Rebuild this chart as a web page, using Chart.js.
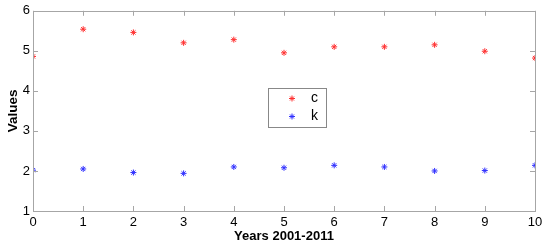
<!DOCTYPE html>
<html>
<head>
<meta charset="utf-8">
<script src="https://cdn.jsdelivr.net/npm/chart.js@4/dist/chart.umd.min.js"></script>
<style>
  html, body { margin: 0; padding: 0; background: #fff; }
  #wrap { width: 550px; height: 247px; }
</style>
</head>
<body>
<div id="wrap"><canvas id="chart" width="550" height="247"></canvas></div>
<script>
const years = [0, 1, 2, 3, 4, 5, 6, 7, 8, 9, 10];
const cValues = [4.86, 5.54, 5.46, 5.20, 5.28, 4.95, 5.10, 5.10, 5.15, 4.99, 4.82];
const kValues = [2.02, 2.05, 1.96, 1.94, 2.10, 2.08, 2.14, 2.10, 2.00, 2.01, 2.14];
const xTicks = [0, 1, 2, 3, 4, 5, 6, 7, 8, 9, 10];
const yTicks = [1, 2, 3, 4, 5, 6];

const FONT = "'Liberation Sans', Arial, sans-serif";
const FRAME = "#a6a6a6";

// frame, inward ticks on all four sides, legend box in the middle
const matlabAxes = {
    id: "matlabAxes",
    afterDraw(chart) {
        const { ctx, chartArea: a, scales } = chart;
        ctx.save();
        ctx.strokeStyle = FRAME;
        ctx.lineWidth = 1;
        ctx.strokeRect(Math.round(a.left) + 0.5, Math.round(a.top) + 0.5,
            Math.round(a.right - a.left), Math.round(a.bottom - a.top));
        const len = 5;
        ctx.beginPath();
        xTicks.forEach((t) => {
            const x = Math.round(scales.x.getPixelForValue(t)) + 0.5;
            ctx.moveTo(x, a.bottom); ctx.lineTo(x, a.bottom - len);
            ctx.moveTo(x, a.top); ctx.lineTo(x, a.top + len);
        });
        yTicks.forEach((t) => {
            const y = Math.round(scales.y.getPixelForValue(t)) + 0.5;
            ctx.moveTo(a.left, y); ctx.lineTo(a.left + len, y);
            ctx.moveTo(a.right, y); ctx.lineTo(a.right - len, y);
        });
        ctx.stroke();

        // legend
        const bx = 268.5, by = 88.5, bw = 58, bh = 39;
        ctx.fillStyle = "#fff";
        ctx.fillRect(bx, by, bw, bh);
        ctx.strokeStyle = "#888";
        ctx.strokeRect(bx, by, bw, bh);
        chart.data.datasets.forEach((ds, i) => {
            const y = by + 10 + i * 18;
            ctx.strokeStyle = ds.borderColor;
            ctx.lineWidth = 1;
            const r = 3, mx = 292;
            ctx.beginPath();
            ctx.moveTo(mx - r, y); ctx.lineTo(mx + r, y);
            ctx.moveTo(mx, y - r); ctx.lineTo(mx, y + r);
            ctx.moveTo(mx - 2, y - 2); ctx.lineTo(mx + 2, y + 2);
            ctx.moveTo(mx - 2, y + 2); ctx.lineTo(mx + 2, y - 2);
            ctx.stroke();
            ctx.fillStyle = "#000";
            ctx.font = "14px " + FONT;
            ctx.textBaseline = "middle";
            ctx.fillText(ds.label, 311, y);
        });
        ctx.restore();
    },
};

new Chart(document.getElementById("chart"), {
    type: "scatter",
    data: {
        datasets: [
            {
                label: "c",
                data: years.map((x, i) => ({ x, y: cValues[i] })),
                borderColor: "#ff3030",
                backgroundColor: "#ff3030",
                pointStyle: "star",
                pointRadius: 3,
                borderWidth: 1,
            },
            {
                label: "k",
                data: years.map((x, i) => ({ x, y: kValues[i] })),
                borderColor: "#3030ff",
                backgroundColor: "#3030ff",
                pointStyle: "star",
                pointRadius: 3,
                borderWidth: 1,
            },
        ],
    },
    options: {
        responsive: false,
        animation: false,
        layout: { padding: { top: 10, right: 15, left: 0, bottom: 0 } },
        plugins: {
            legend: { display: false },
            tooltip: { enabled: false },
        },
        scales: {
            x: {
                type: "linear",
                min: 0,
                max: 10,
                afterBuildTicks: (s) => { s.ticks = xTicks.map((v) => ({ value: v })); },
                afterFit: (s) => { s.height = 36; },
                grid: { display: false, drawTicks: false },
                border: { display: false },
                ticks: { color: "#000", font: { family: FONT, size: 13 }, padding: 4, maxRotation: 0 },
                title: {
                    display: true,
                    text: "Years 2001-2011",
                    color: "#000",
                    font: { family: FONT, size: 13, weight: "bold" },
                    padding: { top: 1, bottom: 3 },
                },
            },
            y: {
                min: 1,
                max: 6,
                afterBuildTicks: (s) => { s.ticks = yTicks.map((v) => ({ value: v })); },
                afterFit: (s) => { s.width = 33; },
                grid: { display: false, drawTicks: false },
                border: { display: false },
                ticks: { color: "#000", font: { family: FONT, size: 13 }, padding: 3 },
                title: {
                    display: true,
                    text: "Values",
                    color: "#000",
                    font: { family: FONT, size: 13.5, weight: "bold" },
                    padding: { top: 5, bottom: 2 },
                },
            },
        },
    },
    plugins: [matlabAxes],
});
</script>
</body>
</html>
